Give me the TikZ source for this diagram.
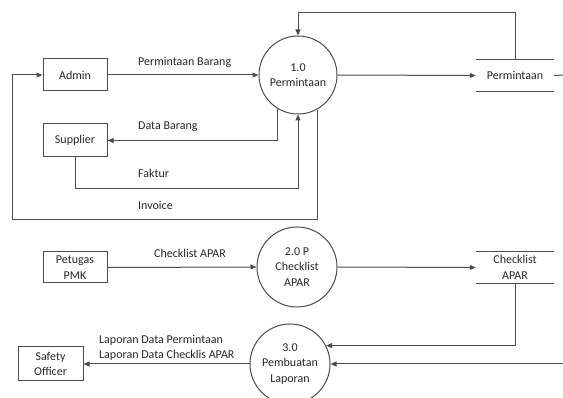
\documentclass[tikz,border=0pt]{standalone}
\usepackage{fontspec}
\setmainfont{Carlito}
\usetikzlibrary{arrows.meta}
\begin{document}
\begin{tikzpicture}[x=1pt,y=-1pt,
  every node/.style={font=\fontsize{12}{15.5}\selectfont, text=black!85},
  line/.style={draw=black!70, line width=1pt},
  arr/.style={line, -{Triangle[length=6pt,width=5pt]}},
  ent/.style={draw=black!70, line width=1pt, rectangle, inner sep=0pt, align=center},
  proc/.style={draw=black!70, line width=1pt, circle, inner sep=0pt, align=center},
  store/.style={inner sep=0pt, align=center},
  lbl/.style={anchor=west, inner sep=0pt}]
\useasboundingbox (0,0) rectangle (563,398);

% entities
\node[ent, minimum width=64, minimum height=32] (admin) at (75,75) {Admin};
\node[ent, minimum width=64, minimum height=33] (supplier) at (75,140.5) {Supplier};
\node[ent, minimum width=64, minimum height=31] (petugas) at (75,267.5) {Petugas\\PMK};
\node[ent, minimum width=65, minimum height=34] (safety) at (50.5,364) {Safety\\Officer};

% processes
\node[proc, minimum size=78] (p1) at (298,75) {1.0\\Permintaan};
\node[proc, minimum size=80] (p2) at (297,267) {2.0 P\\Checklist\\APAR};
\node[proc, minimum size=80] (p3) at (290,364) {3.0\\Pembuatan\\Laporan};

% stores
\node[store, minimum width=78, minimum height=31] (st1) at (515,75.5) {Permintaan};
\draw[line] (st1.north west) -- (st1.north east);
\draw[line] (st1.south west) -- (st1.south east);
\node[store, minimum width=78, minimum height=31] (st2) at (515,267.5) {Checklist\\APAR};
\draw[line] (st2.north west) -- (st2.north east);
\draw[line] (st2.south west) -- (st2.south east);

% coordinates
\coordinate (tl) at (298,13);
\coordinate (fk) at (76,189);
\coordinate (inv) at (12,220);
\coordinate (e1) at (563,75);
\coordinate (e2) at (563,364);

% flows top
\draw[arr] (admin.east) -- (p1.west);
\draw[arr] (st1.north) |- (tl) -- (p1.north);
\draw[arr] (p1.east) -- (st1.west);
\draw[line] (st1.east) -- (e1);
\draw[arr] (p1.239) |- (supplier.east);
\draw[arr] (supplier.south) |- (p1.south |- fk) -- (p1.south);
\draw[arr] (p1.299) |- (inv) |- (admin.west);

% flows bottom
\draw[arr] (petugas.east) -- (p2.west);
\draw[arr] (p2.east) -- (st2.west);
\draw[arr] (st2.south) |- (p3.27);
\draw[arr] (e2) -- (p3.east);
\draw[arr] (p3.west) -- (safety.east);

% labels
\node[lbl] (lPB) at (138,62) {Permintaan Barang};
\node[lbl] (lDB) at (138,127) {Data Barang};
\node[lbl] (lFK) at (138,173) {Faktur};
\node[lbl] (lIN) at (138,205) {Invoice};
\node[lbl] (lCA) at (154,253) {Checklist APAR};
\node[lbl] (lL1) at (99,340) {Laporan Data Permintaan};
\node[lbl] (lL2) at (99,355) {Laporan Data Checklis APAR};
\end{tikzpicture}
\end{document}
